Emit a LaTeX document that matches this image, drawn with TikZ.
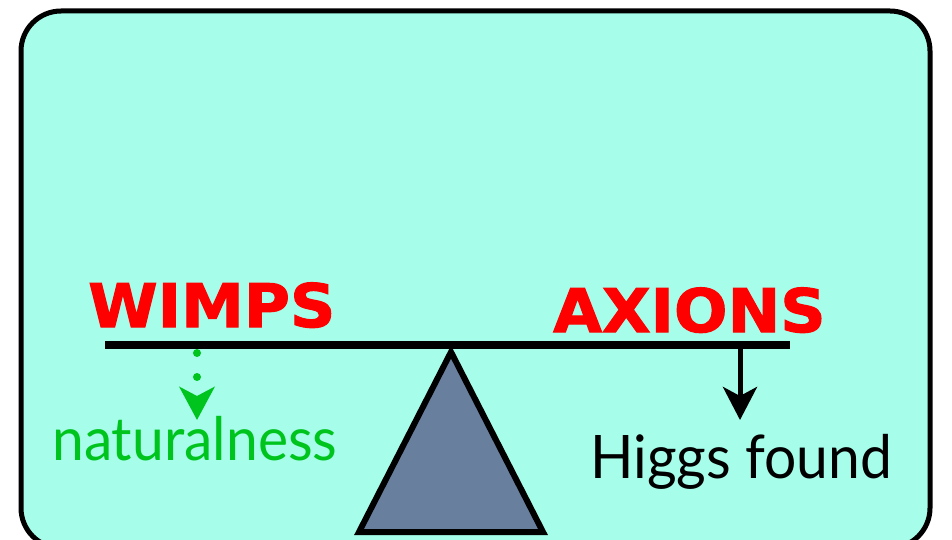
\documentclass[tikz,border=0pt]{standalone}
\usepackage{fontspec}
\setmainfont{Lato}[FakeStretch=0.95]
\newfontfamily\headfont[FakeStretch=1.05,FakeBold=1.8]{DejaVu Sans}
\usetikzlibrary{arrows.meta}
\definecolor{panel}{RGB}{166,253,234}
\definecolor{fulcrum}{RGB}{104,127,158}
\definecolor{wred}{RGB}{255,0,0}
\definecolor{ngreen}{RGB}{0,196,30}
\begin{document}
\begin{tikzpicture}[x=1pt,y=-1pt,
  head/.style={inner sep=0pt,anchor=base west,text=wred,font=\headfont\bfseries\fontsize{60}{60}\selectfont},
  label/.style={inner sep=0pt,anchor=base west,font=\fontsize{60}{60}\selectfont},
  beam/.style={line width=8pt},
  solidarrow/.style={line width=5pt,-{Stealth[length=33pt,width=34pt,inset=9pt]}},
  dotarrow/.style={ngreen,line width=8pt,line cap=round,dash pattern=on 0pt off 24pt,-{Stealth[length=33pt,width=35pt,inset=9pt,line cap=butt]}}]
\useasboundingbox (0,0) rectangle (952,540);
\clip (0,0) rectangle (952,540);
\fill[white] (0,0) rectangle (952,540);
\draw[line width=5pt,fill=panel,rounded corners=40pt] (21,11) rectangle (930,548);
% fulcrum
\draw[line width=6pt,fill=fulcrum,line join=miter] (451,352) -- (543,532) -- (359,532) -- cycle;
% beam
\coordinate (bl) at (105,345);
\coordinate (br) at (790,345);
\draw[beam] (bl) -- (br);
% labels
\node[head] (wimps) at (88,327) {WIMPS};
\node[head] (axions) at (553,332) {AXIONS};
\node[label,text=ngreen] (nat) at (52,460) {naturalness};
\node[label,text=black] (higgs) at (590,478) {Higgs found};
% arrows
\coordinate (wdrop) at (197,353);
\coordinate (wtip) at (197,420);
\coordinate (adrop) at (740,349);
\coordinate (atip) at (740,420);
\draw[dotarrow] (wdrop) -- (wtip);
\draw[solidarrow] (adrop) -- (atip);
\end{tikzpicture}
\end{document}
